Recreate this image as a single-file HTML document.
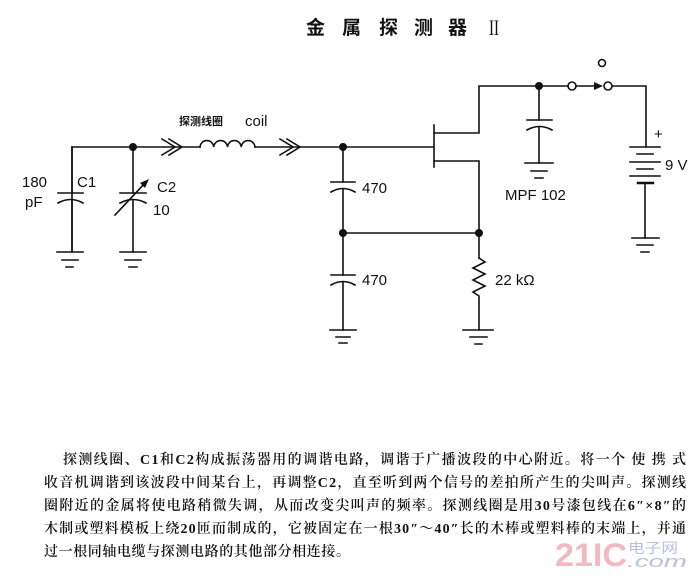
<!DOCTYPE html>
<html><head><meta charset="utf-8"><style>
html,body{margin:0;padding:0;background:#fff;}
svg{display:block;}
.t{font-family:"Liberation Sans",sans-serif;font-size:15px;fill:#111;}
.cn{font-family:"Liberation Serif","Noto Serif CJK SC",serif;font-size:14px;fill:#111;font-weight:600;}
</style></head><body>
<svg width="696" height="581" viewBox="0 0 696 581" xmlns="http://www.w3.org/2000/svg">
<rect width="696" height="581" fill="#fff"/>
<!-- title -->
<g font-family="'Liberation Sans','Noto Sans CJK SC',sans-serif" font-weight="700" font-size="19" fill="#111">
<text x="306" y="34">金</text><text x="342" y="34">属</text><text x="379" y="34">探</text><text x="414" y="34">测</text><text x="448" y="34">器</text>
</g>
<text x="489" y="35" font-family="'Liberation Serif',serif" font-size="22" fill="#111" textLength="10" lengthAdjust="spacingAndGlyphs">II</text>

<g stroke="#111" stroke-width="1.6" fill="none" stroke-linecap="square">
<!-- top left wire -->
<path d="M72,252 V147 H200"/>
<path d="M255,147 H434"/>
<!-- chevrons -->
<path d="M162,139 L175,147 L162,155 M169,139 L182,147 L169,155"/>
<path d="M280,139 L293,147 L280,155 M287,139 L300,147 L287,155"/>
<!-- coil -->
<path d="M200,147 a6.9,7 0 0 1 13.75,0 a6.9,7 0 0 1 13.75,0 a6.9,7 0 0 1 13.75,0 a6.9,7 0 0 1 13.75,0"/>
<!-- C1 -->
<path d="M58,193 H83"/>
<path d="M58,203 Q70.5,196 83,203"/>
<path d="M72,193 V147" />
<path d="M72,200 V252"/>
<path d="M57,252 H83 M62,260 H78 M66,267 H73"/>
<!-- C2 -->
<path d="M133,147 V193"/>
<path d="M120,193 H146"/>
<path d="M120,203 Q133,196 146,203"/>
<path d="M133,200 V252"/>
<path d="M120,252 H146 M125,260 H141 M129,267 H137"/>
<path d="M115,215 L146,182"/>
<!-- left column 470 caps -->
<path d="M343,147 V182"/>
<path d="M331,182 H355"/>
<path d="M331,192 Q343,185 355,192"/>
<path d="M343,189 V275"/>
<path d="M331,275 H355"/>
<path d="M331,285 Q343,278 355,285"/>
<path d="M343,282 V330"/>
<path d="M330,330 H356 M336,337 H350 M339,343 H347"/>
<path d="M343,233 H479"/>
<!-- FET -->
<path d="M434,125 V167"/>
<path d="M434,133 H479 V86 H568"/>
<path d="M434,161 H479 V258"/>
<path d="M479,258 L485,262 L473,268 L485,274 L473,280 L485,286 L473,292 L479,296 V330"/>
<path d="M463,330 H493 M470,337 H487 M475,344 H482"/>
<!-- bypass cap -->
<path d="M539,86 V120"/>
<path d="M527,120 H552"/>
<path d="M527,130 Q539.5,123 552,130"/>
<path d="M539,127 V163"/>
<path d="M525,163 H553 M531,171 H547 M535,178 H543"/>
<!-- switch -->
<circle cx="572" cy="86" r="4"/>
<path d="M576,86 H596"/>
<circle cx="608" cy="86" r="4"/>
<circle cx="602" cy="63" r="3.5"/>
<path d="M612,86 H646 V147"/>
<!-- battery -->
<path d="M630,147 H660 M637,154 H653 M630,162 H660 M637,169 H653 M630,176 H660"/>
<path d="M638,183 H653" stroke-width="2.4"/>
<path d="M645,183 V238"/>
<path d="M632,238 H659 M637,245 H653 M641,252 H649"/>
</g>
<!-- arrowheads -->
<polygon points="149,179 140,183 145,188" fill="#111"/>
<polygon points="603,86 594,82 594,90" fill="#111"/>
<!-- node dots -->
<g fill="#111">
<circle cx="133" cy="147" r="4"/>
<circle cx="343" cy="147" r="4"/>
<circle cx="343" cy="233" r="4"/>
<circle cx="479" cy="233" r="4"/>
<circle cx="539" cy="86" r="4"/>
</g>
<!-- labels -->
<text x="179" y="125" font-family="'Liberation Sans','Noto Sans CJK SC',sans-serif" font-size="11" font-weight="700" fill="#111">探测线圈</text>
<text class="t" x="245" y="126" font-size="16">coil</text>
<text class="t" x="22" y="187">180</text>
<text class="t" x="25" y="207">pF</text>
<text class="t" x="77" y="187">C1</text>
<text class="t" x="157" y="192">C2</text>
<text class="t" x="153" y="215">10</text>
<text class="t" x="362" y="193">470</text>
<text class="t" x="362" y="285">470</text>
<text class="t" x="495" y="285">22 kΩ</text>
<text class="t" x="505" y="200">MPF 102</text>
<text class="t" x="654" y="139" font-size="13">+</text>
<text class="t" x="665" y="170">9 V</text>
<!-- body text -->
<text class="cn" x="63" y="464" textLength="623" lengthAdjust="spacing">探测线圈、C1和C2构成振荡器用的调谐电路，调谐于广播波段的中心附近。将一个 使 携 式</text>
<text class="cn" x="44" y="487" textLength="642" lengthAdjust="spacing">收音机调谐到该波段中间某台上，再调整C2，直至听到两个信号的差拍所产生的尖叫声。探测线</text>
<text class="cn" x="44" y="510" textLength="642" lengthAdjust="spacing">圈附近的金属将使电路稍微失调，从而改变尖叫声的频率。探测线圈是用30号漆包线在6″×8″的</text>
<text class="cn" x="44" y="533" textLength="642" lengthAdjust="spacing">木制或塑料模板上绕20匝而制成的，它被固定在一根30″～40″长的木棒或塑料棒的末端上，并通</text>
<text class="cn" x="44" y="556" textLength="306" lengthAdjust="spacing">过一根同轴电缆与探测电路的其他部分相连接。</text>
<!-- watermark -->
<text x="555" y="566" font-family="'Liberation Sans',sans-serif" font-weight="700" font-size="32" fill="#f2b9c2" textLength="72" lengthAdjust="spacingAndGlyphs">21IC</text>
<text x="628" y="553" font-family="'Liberation Sans','Noto Sans CJK SC',sans-serif" font-size="14" fill="#b9c0e4" textLength="50" lengthAdjust="spacingAndGlyphs">电子网</text>
<text x="627" y="567" font-family="'Liberation Sans',sans-serif" font-style="italic" font-size="17" fill="#b9c0e4" textLength="60" lengthAdjust="spacingAndGlyphs">.com</text>
</svg>
</body></html>
